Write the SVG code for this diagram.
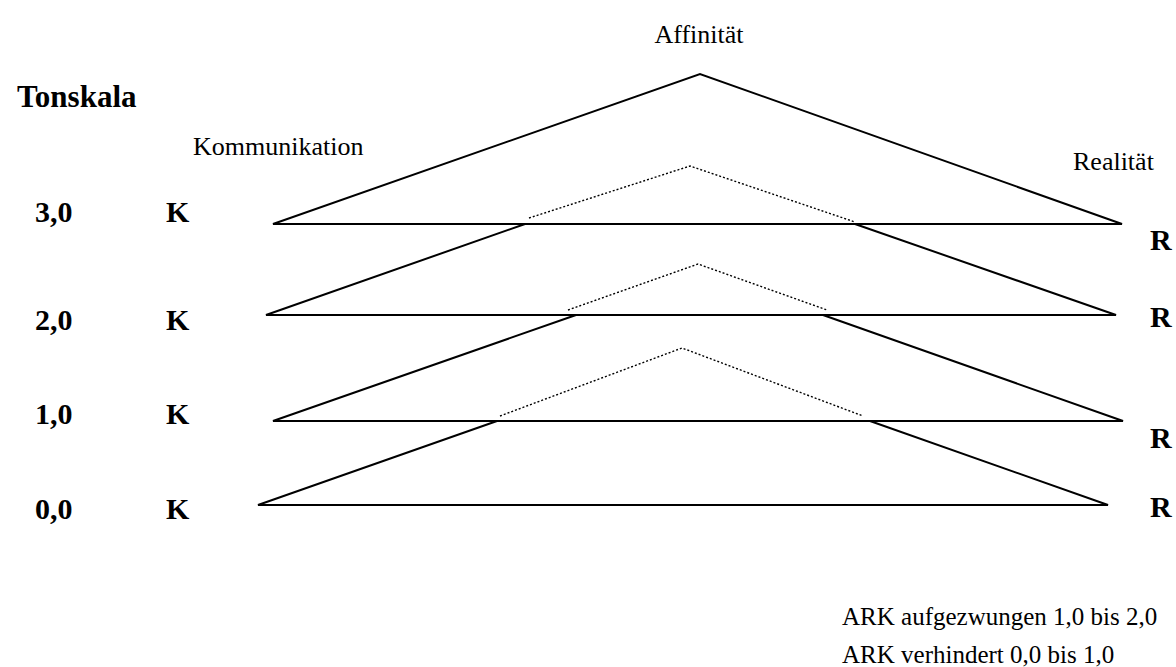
<svg xmlns="http://www.w3.org/2000/svg" width="1176" height="667" viewBox="0 0 1176 667">
<style>
.s{fill:none;stroke:#000;stroke-width:2;stroke-linejoin:miter}
.d{fill:none;stroke:#000;stroke-width:1.4;stroke-dasharray:2 2}
.lab{font-family:"Liberation Serif","Times New Roman",serif;font-size:26px;fill:#000}
.note{font-family:"Liberation Serif","Times New Roman",serif;font-size:25px;fill:#000}
.b{font-family:"Liberation Serif","Times New Roman",serif;font-size:30px;font-weight:bold;fill:#000}
</style>
<rect width="1176" height="667" fill="#fff"/>
<g id="connectors">
<polygon class="s" points="273,224 700,74 1122,224"/>
<polyline class="s" points="525,224 266,315 1116,315 855,224"/>
<polyline class="d" points="529,218 690,166 855,222"/>
<polyline class="s" points="576,315 273,421 1123,421 823,315"/>
<polyline class="d" points="568,310 698,264 827,310"/>
<polyline class="s" points="497,421 258,505 1108,505 870,421"/>
<polyline class="d" points="500,416 682,348 863,416"/>
</g>
<g id="labels">
<text class="lab" x="699" y="43" text-anchor="middle">Affinität</text>
<text class="b" x="17" y="107" style="font-size:31px">Tonskala</text>
<text class="lab" x="193" y="155">Kommunikation</text>
<text class="lab" x="1073" y="170">Realität</text>
</g>
<g id="scale">
<text class="b" x="35" y="222">3,0</text>
<text class="b" x="35" y="330">2,0</text>
<text class="b" x="35" y="424">1,0</text>
<text class="b" x="35" y="519">0,0</text>
<text class="b" x="166" y="222">K</text>
<text class="b" x="166" y="330">K</text>
<text class="b" x="166" y="424">K</text>
<text class="b" x="166" y="519">K</text>
<text class="b" x="1150" y="250">R</text>
<text class="b" x="1150" y="327">R</text>
<text class="b" x="1150" y="448">R</text>
<text class="b" x="1150" y="517">R</text>
</g>
<g id="notes">
<text class="note" x="842" y="625">ARK aufgezwungen 1,0 bis 2,0</text>
<text class="note" x="842" y="663">ARK verhindert 0,0 bis 1,0</text>
</g>
</svg>
